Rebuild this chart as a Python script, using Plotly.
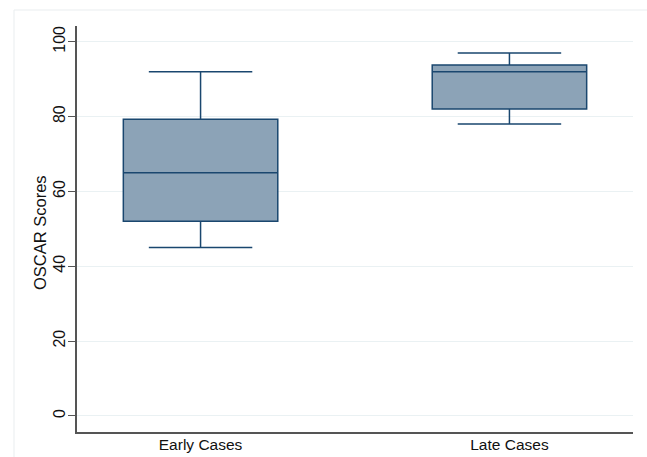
import plotly.graph_objects as go

categories = ["Early Cases", "Late Cases"]
lower_whisker = [45, 78]
q1_vals = [52, 82]
medians = [65, 92]
q3_vals = [79.25, 93.75]
upper_whisker = [92, 97]
y_ticks = [0, 20, 40, 60, 80, 100]
y_title = "OSCAR Scores"

fig = go.Figure()
fig.add_trace(go.Box(
    x=categories,
    q1=q1_vals,
    median=medians,
    q3=q3_vals,
    lowerfence=lower_whisker,
    upperfence=upper_whisker,
    width=0.5,
    whiskerwidth=0.67,
    fillcolor="#8CA3B7",
    line=dict(color="#1a476f", width=1.5),
    boxpoints=False,
    showlegend=False,
    hoverinfo="skip",
))

W, H = 647, 457
L, R, T, B = 77, 14, 26, 25
pw, ph = W - L - R, H - T - B

def px_x(x):
    return (x - L) / pw

def px_y(y):
    return (H - B - y) / ph

fig.update_layout(
    width=W, height=H,
    margin=dict(l=L, r=R, t=T, b=B),
    paper_bgcolor="white",
    plot_bgcolor="white",
    font=dict(family="Liberation Sans, Arial, sans-serif", size=15, color="#111111"),
    xaxis=dict(
        type="category",
        range=[-0.4, 1.4],
        automargin=False,
        showgrid=False,
        zeroline=False,
        showline=True,
        linecolor="#555555",
        linewidth=1.5,
        ticks="",
        ticklabelstandoff=-2,
        tickfont=dict(size=15.5),
    ),
    yaxis=dict(
        range=[-4.3, 104.2],
        automargin=False,
        tickvals=y_ticks,
        tickangle=-90,
        showgrid=True,
        gridcolor="#eaf1f3",
        gridwidth=1,
        zeroline=False,
        showline=True,
        linecolor="#555555",
        linewidth=1.5,
        ticks="outside",
        ticklen=7,
        tickcolor="#555555",
        tickwidth=1,
        ticklabelstandoff=-3,
        tickfont=dict(size=16),
    ),
    annotations=[
        dict(text=y_title, xref="paper", yref="paper",
             x=px_x(40), y=px_y(233), textangle=-90, showarrow=False,
             xanchor="center", yanchor="middle", font=dict(size=16.5)),
    ],
    shapes=[
        dict(type="line", xref="paper", yref="paper",
             x0=px_x(14), x1=px_x(660), y0=px_y(10), y1=px_y(10),
             line=dict(color="#e9edef", width=1)),
        dict(type="line", xref="paper", yref="paper",
             x0=px_x(14), x1=px_x(14), y0=px_y(10), y1=px_y(470),
             line=dict(color="#e9edef", width=1)),
    ],
)

fig.write_html(
    "out.html",
    config={"displayModeBar": False},
    post_script="document.body.style.margin='0';document.body.style.overflow='hidden';",
)
